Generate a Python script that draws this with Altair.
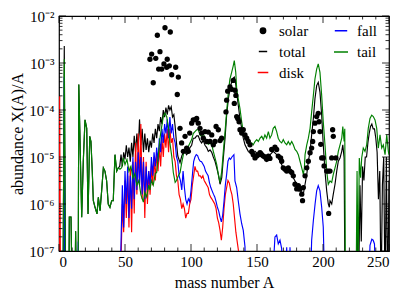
import altair as alt
import pandas as pd

# ---------------- data (log10 of abundance; -8 means below the plot) -------------
solar_A = [68.9, 70.2, 71.4, 73.3, 74.5, 75.5, 76.5, 77.8, 79.5, 80.3, 81.6, 82.0, 83.6, 84.3, 85.4, 88.4, 89.6, 90.4,
           91.7, 92.9, 94.2, 95.5, 96.7, 98, 99, 100.5, 101.7, 103, 104.3, 105.5, 106.8, 108.1, 109.3, 110.6, 111.9,
           113.1, 114.4, 115.7, 116.9, 118.2, 119, 120.7, 122, 123.2,
           126.5, 127, 127.8, 129.5, 130.8, 132, 132.8, 133.3, 134, 134.6, 135.4, 136.4, 137.1, 138.4, 139.6, 140.9,
           142.2, 143.4, 144.7, 146, 147.2, 148.5, 149.8, 151, 152.3, 153.6, 154.8,
           156, 157.3, 158.6, 159.8, 161.1, 163.6, 164.9, 166.1, 167.9, 168.7, 169.9, 171.2, 172.5, 173.7, 175, 176.3,
           177.5, 178.8, 180.1, 181.3, 182.6, 183.9, 184.5, 185.1, 186.4, 187.7, 188.9, 190.2, 191.4, 192.2, 192.7,
           193.9, 195.2, 196.4, 197, 197.7, 198.3, 199, 200.2, 200.8, 202.8, 204, 204.3, 205.3, 206.6, 207.3, 207.8,
           209.8]
solar_log = [-2.92, -2.81, -3.42, -2.90, -2.41, -3.13, -2.76, -3.13, -3.02, -2.25, -3.09, -2.92, -3.06, -2.34, -3.25,
             -3.09, -3.67, -3.30,
             -4.39, -4.70, -4.88, -4.56, -4.81, -4.88, -4.49, -4.28, -4.21, -4.21, -4.18, -4.28, -4.39, -4.49, -4.60,
             -4.46, -4.67, -4.47, -4.67, -4.53, -4.74, -4.67, -4.35, -4.42, -4.65, -4.60,
             -4.04, -3.79, -3.60, -3.51, -3.56, -3.37, -3.86, -3.58, -3.69, -4.14, -4.18, -4.25, -4.42, -4.49, -4.42,
             -4.53, -4.60, -4.67, -4.74, -4.88, -4.95, -5.02, -4.98, -4.95, -4.91, -4.95, -4.98,
             -5.00, -5.05, -4.98, -5.03, -4.84, -4.79, -4.84, -4.98, -5.02, -5.09, -5.23, -5.26, -5.30, -5.23, -5.30,
             -5.33, -5.40, -5.58, -5.68, -5.61, -5.68, -5.79, -5.93, -5.65, -5.40, -5.23, -5.09, -4.91, -4.81, -4.67,
             -4.46, -4.28, -4.14, -4.07, -4.25, -4.46, -4.73, -5.02, -5.02, -5.19, -5.30, -5.30, -6.20, -5.30, -5.02,
             -4.42, -4.56, -5.02]

tail_A = [0, 3, 4, 5, 7.5, 7.8, 9.1, 10, 12, 12.6, 13.3, 14.5, 15, 17.2, 18.4, 19.7, 21, 22, 23.3, 24.2, 25.2, 26,
          27.3, 28.8, 29.8, 31.1, 32.3, 33.6, 34.8, 36.1, 37.3, 38.6, 39.9, 41.1, 42.4, 43.7, 44.9, 46.2, 47.5, 48.7,
          50, 51.5, 53, 54.5, 56, 57.5, 59, 60.5, 62, 63.9, 65, 66.4, 68, 68.9, 70, 71.4, 73, 74, 75.2, 76.5, 77.8,
          79, 80.3, 81.6, 82.8, 84, 85.4, 86.6, 88, 89, 90.4, 91.7, 93, 94.2, 95.5, 96.7, 98, 99.2, 100.5, 101.7,
          103, 104.3, 105.5, 106.8, 108, 109.3, 110.6, 111.9, 113.1, 114.4, 115.7, 116.9, 118.2, 119.5, 120.7, 122,
          123.3, 124.5, 125.8, 127, 128.3, 129.5, 130.8, 132, 132.8, 133.9, 134.6, 135.8, 137.1, 138.4, 139.6,
          140.9, 142.2, 143.4, 144.7, 146, 147.2, 148.5, 149.8, 151, 152.3, 153.6, 154.8, 156, 157.3, 158.6, 159.8,
          161.1, 162.3, 163.6, 164.9, 166.1, 167.4, 168.7, 169.9, 171.2, 172.5, 173.7, 175, 176.3, 177.5, 178.8,
          180.1, 181.3, 182.6, 183.9, 185.1, 185.9, 186.4, 187.7, 188.9, 190.2, 191.4, 192.7, 193.9, 195.2, 196.4,
          197.7, 199, 200.2, 201.5, 202.8, 204, 205.3, 206.6, 207.8, 209.1, 210.4, 211.6, 212.9, 214.2, 215, 216,
          216.5, 217, 225, 225.8, 226.6, 227.5, 228.5, 229.3, 230.5, 231.8, 233.1, 234.3, 235.6, 236.9, 238.1,
          239.4, 240.7, 241.9, 243.2, 244.5, 245.7, 247, 248.3, 249.5, 250]
tail_log = [-8, -8, -2.92, -8, -8, -6.28, -6.28, -8, -8, -6.58, -8, -8, -3.46, -6.28, -5.09, -4.21, -4.39, -6.21,
            -4.56, -4.67, -5.30, -5.93, -6.07, -6.21, -5.86, -6.14, -5.72, -5.23, -5.30, -5.51, -6.00, -6.07, -5.93,
            -5.93, -4.95, -5.30, -5.23, -5.26, -5.23, -5.02,
            -5.16, -5.05, -5.30, -5.20, -5.45, -5.35, -5.60, -5.50, -5.80, -5.96, -5.75, -5.85, -5.60, -5.70, -5.50,
            -5.60, -5.35, -5.33, -4.98, -4.60, -4.35, -4.14, -4.07, -4.14, -4.35, -4.70, -4.98, -5.33, -5.54, -5.50,
            -5.40, -5.33, -5.12, -4.95, -4.84, -4.85, -4.77, -4.70, -4.63, -4.50,
            -4.46, -4.42, -4.42, -4.53, -4.56, -4.50, -4.60, -4.65, -4.73, -4.70, -4.74, -4.88, -5.02, -5.16, -5.37,
            -5.54, -5.30, -4.88, -4.46, -4.04, -3.62, -3.34, -3.20, -3.06, -2.95, -3.20, -3.55, -3.76, -3.97, -4.25,
            -4.46, -4.60, -4.62, -4.67, -4.74, -4.70, -4.74, -4.67, -4.63, -4.67, -4.60, -4.56, -4.63, -4.53, -4.60,
            -4.46, -4.60, -4.53, -4.39, -4.35, -4.46, -4.60, -4.67, -4.70, -4.63, -4.70, -4.74, -4.67, -4.74, -4.67,
            -4.74, -4.84, -4.88, -4.95, -5.09, -5.23, -5.37, -5.23, -4.95, -4.74, -4.60, -4.39, -4.04, -3.69, -3.34,
            -3.13, -3.02, -3.20, -3.69, -4.25, -4.74, -5.30, -5.58, -5.51, -5.54, -5.37, -5.23, -5.09, -4.88, -4.74,
            -4.60, -4.35, -4.67, -4.40, -8, -8, -5.30, -7.50, -5.02, -5.44, -5.02, -4.81, -4.88, -4.74, -4.39, -4.18,
            -4.11, -4.14, -4.21, -4.39, -4.81, -4.53, -4.81, -4.74, -4.95, -4.53, -4.88, -4.95]

total_A = [0, 3, 4, 5, 7.5, 7.8, 9.1, 10, 12, 12.6, 13.3, 14.5, 15, 17.2, 18.4, 19.7, 21, 22, 23.3, 24.2, 25.2, 26,
           27.3, 28.8, 29.8, 31.1, 32.3, 33.6, 34.8, 36.1, 37.3, 38.6, 39.9, 41.1, 42.4, 43.7, 44.9,
           46, 47, 48, 49, 50, 51, 52, 53, 54, 55, 56, 57, 58, 59, 60, 61, 62, 63, 64, 65, 66, 67, 68, 69, 70, 71,
           72, 73, 74, 75, 76, 77, 78, 79, 80, 81, 82, 83, 84, 85, 86, 87, 88, 89, 90, 91.7, 93, 94.2,
           95.5, 96.7, 98, 99.2, 100.5, 101.7, 103, 104.3, 105.5, 106.8, 108, 109.3, 110.6, 111.9, 113.1, 114.4,
           115.7, 116.9, 118.2, 119.5, 120.7, 122, 123.3, 124.5, 125.8, 127, 128.3, 129.5, 130.8, 132, 132.8, 133.9,
           134.6, 135.8, 137.1, 138.4, 139.6, 140.9, 143.4, 146, 148.5, 151, 153.6, 156, 157.3, 160, 162.3, 164.9,
           167.4, 169.9, 172.5, 175, 177.5, 180.1, 181.3, 182.6, 184, 185.1, 186.4, 187.7, 188.9, 190.2, 191.4,
           192.7, 193.9, 195.2, 196.4, 197.7, 199, 200.2, 201.5, 202.8, 204, 204.8, 205.3, 206.6, 207.8, 209.1,
           210.4, 211.6, 212.9, 214.2, 215, 216, 216.7, 225, 226, 227, 228, 229, 230, 231, 232, 233, 234, 235, 236,
           237, 238, 239, 240, 241, 242, 243, 244, 245, 246, 247, 248, 249, 250]
total_log = [-8, -8, -2.64, -8, -8, -6.28, -6.28, -8, -8, -6.58, -8, -8, -3.46, -6.28, -5.09, -4.21, -4.39, -6.21,
             -4.56, -4.67, -5.30, -5.93, -6.07, -6.21, -5.86, -6.14, -5.72, -5.23, -5.30, -5.51, -6.00, -6.07, -5.93,
             -5.93, -4.95, -5.30, -5.23,
             -5.20, -4.95, -5.20, -4.90, -5.05, -4.75, -5.00, -4.80, -5.10, -4.70, -5.00, -4.55, -4.90, -4.50, -4.85,
             -4.20, -4.75, -4.40, -4.90, -4.50, -4.85, -4.60, -4.90, -4.65, -4.80, -4.50, -4.70, -4.40, -4.60, -4.30,
             -4.45, -4.15, -4.30, -4.00, -4.15, -3.95, -4.10, -3.90, -4.00, -3.93, -4.15, -4.10, -4.35, -4.70, -4.98,
             -5.12, -4.98, -4.90,
             -4.90, -4.95, -4.90, -4.80, -4.75, -4.60, -4.60, -4.55, -4.55, -4.65, -4.70, -4.65, -4.75, -4.80, -4.88,
             -4.85, -4.90, -5.00, -5.09, -5.23, -5.37, -5.58, -5.44, -5.02, -4.60, -4.11, -3.76, -3.55, -3.40, -3.32,
             -3.30, -3.45, -3.62, -3.90, -4.18, -4.39, -4.60, -4.74, -4.88, -4.95, -4.88, -4.95, -4.88, -5.00, -5.09,
             -4.95, -4.88, -4.95, -5.09, -5.23, -5.30, -5.30, -5.44, -5.58, -5.72, -5.72, -5.75, -5.79, -5.58, -5.37,
             -5.09, -4.88, -4.53, -4.18, -3.76, -3.48, -3.41, -3.62, -4.11, -4.74, -5.30, -5.72, -6.00, -6.07, -5.93,
             -6.00, -5.79, -5.58, -5.30, -5.09, -5.02, -4.88, -4.74, -5.02, -8, -8, -6.50, -7.80, -5.60, -6.80,
             -5.20, -5.50, -5.00, -5.00, -4.70, -4.50, -4.35, -4.30, -4.40, -4.40, -4.60, -4.90, -5.90, -5.30, -8,
             -5.60, -5.00, -8, -5.00, -8, -5.50]

disk_A = [0, 0.5, 1.2, 46, 47, 48, 49, 50, 51, 52, 53, 54, 55, 56, 57, 58, 59, 60, 61, 62, 63, 64, 65, 66, 67, 68, 69,
          70, 71, 72, 73, 74, 75, 76, 77, 78, 79, 80, 81, 82, 83, 84, 85, 86, 87, 88, 89, 90, 91, 92, 93, 94, 95, 96,
          97, 98, 99, 100, 101, 102, 103, 104, 105, 106, 107, 108, 109, 110, 111, 112, 113, 114, 115, 116, 117, 118,
          119, 120, 121, 122, 123, 124, 125, 126, 127, 128, 129, 130, 131, 132, 133, 134, 135, 136, 137, 250]
disk_log = [-8, -3.70, -8, -8, -7.20, -6.00, -6.60, -5.50, -6.30, -5.40, -6.50, -5.20, -6.60, -5.10, -6.20, -4.70,
            -5.80, -4.50, -5.60, -4.30, -5.90, -5.00, -6.30, -5.10, -6.00, -5.30, -5.80, -5.20, -5.60, -5.00, -5.50,
            -4.90, -5.30, -4.80, -5.20, -4.60, -5.00, -4.50, -4.80, -4.40, -4.90, -4.40, -4.70, -4.60, -5.00, -5.10,
            -5.40, -5.50, -5.80, -5.90, -6.10, -6.00, -6.10, -6.30, -6.20, -6.20, -6.00, -5.90, -5.60, -5.40, -5.20,
            -5.30, -5.30, -5.40, -5.40, -5.45, -5.40, -5.50, -5.55, -5.60, -5.65, -5.80, -5.86, -5.90, -5.95, -6.00,
            -6.10, -6.30, -6.40, -6.56, -6.77, -6.50, -6.10, -5.80, -5.65, -5.50, -5.55, -5.70, -5.80, -6.00, -6.30,
            -6.60, -6.80, -7.00, -8, -8]

fall_A = [0, 3.5, 4, 4.5, 14, 14.6, 15.2, 46, 47, 48, 49, 50, 51, 52, 53, 54, 55, 56, 57, 58, 59, 60, 61, 62, 63, 64,
          65, 66, 67, 68, 69, 70, 71, 72, 73, 74, 75, 76, 77, 78, 79, 80, 81, 82, 83, 84, 85, 86, 87, 88, 89, 90,
          91, 92, 93, 94, 95, 96, 97, 98, 99, 100, 101, 102, 103, 104, 105, 106, 107, 108, 109, 110, 111, 112, 113,
          114, 115, 116, 117, 118, 119, 120, 121, 122, 123, 124, 125, 126, 127, 128, 129, 130, 131, 132.5, 133.3,
          134.6, 135.8, 137.1, 138.4, 139.6, 140.9, 141.5, 161, 163.6, 164.9, 166.1, 167.4, 168.7, 169.5, 171.5,
          172.5, 173.5, 174.5, 175, 176, 190.2, 191.4, 192.7, 194, 195.2, 196.4, 197.7, 199, 200.2, 201.5, 234.5,
          235.6, 237, 238, 239, 240.2, 250]
fall_log = [-8, -8, -3.30, -8, -8, -6.80, -8, -8, -6.80, -5.60, -6.50, -5.30, -6.00, -5.20, -6.30, -5.40, -6.10,
            -5.00, -5.90, -5.10, -5.70, -4.90, -5.60, -5.00, -5.80, -5.10, -5.90, -5.20, -5.70, -5.30, -5.60, -5.00,
            -5.40, -4.90, -5.20, -4.80, -5.10, -4.60, -4.90, -4.40, -4.70, -4.30, -4.50, -4.20, -4.60, -4.15, -4.50,
            -4.30, -4.60, -4.70, -5.00, -5.10, -5.40, -5.50, -5.70, -5.30, -5.65, -5.90, -6.00, -5.89, -5.95, -5.72,
            -5.40, -5.10, -5.00, -4.95, -4.97, -5.05, -5.09, -5.10, -5.15, -5.20, -5.30, -5.35, -5.40, -5.55, -5.65,
            -5.72, -5.79, -5.85, -5.95, -6.07, -6.15, -6.28, -6.38, -6.24, -5.95, -5.60, -5.37, -5.09, -5.02, -5.05,
            -5.00, -4.95, -5.51, -5.65, -5.93, -6.21, -6.42, -6.56, -6.91, -8, -8, -6.70, -6.66, -6.85, -6.77, -6.95,
            -8, -8, -6.92, -8, -8, -6.92, -8, -8, -6.77, -6.35, -6.00, -5.72, -5.61, -5.72, -6.07, -6.49, -8, -8,
            -6.88, -6.75, -6.77, -6.85, -8, -8]

series_order = ["solar", "total", "disk", "fall", "tail"]
series_colors = ["#000000", "#000000", "#ff0000", "#0000ff", "#008000"]
x_ticks_major = [0, 50, 100, 150, 200, 250]
x_ticks_minor = [10, 20, 30, 40, 60, 70, 80, 90, 110, 120, 130, 140, 160, 170, 180, 190, 210, 220, 230, 240]
y_ticks_major = [1e-7, 1e-6, 1e-5, 1e-4, 1e-3, 1e-2]
y_ticks_minor = [k * 10.0 ** e for e in range(-7, -2) for k in range(2, 10)]


def frame(name, a, lg):
    return pd.DataFrame({"A": a, "abund": [10.0 ** v for v in lg], "series": name})


FONT = "Liberation Serif"
W, H = 330, 235

xscale = alt.Scale(domain=[0, 250], nice=False, zero=False)
yscale = alt.Scale(type="log", domain=[1e-7, 1e-2], nice=False)
cscale = alt.Scale(domain=series_order, range=series_colors)

xaxis = alt.Axis(values=x_ticks_major, ticks=False, domain=False, grid=False, labelFont=FONT,
                 labelFontSize=15, labelPadding=3, labelColor="black", title="mass number A",
                 titleFont=FONT, titleFontSize=16, titleFontWeight="normal", titleColor="black",
                 titlePadding=5)
yaxis = alt.Axis(values=y_ticks_major, ticks=False, domain=False, grid=False, labelFont=FONT,
                 labelFontSize=15, labelPadding=5, labelColor="black",
                 labelExpr="'10' + ['⁻²','⁻³','⁻⁴','⁻⁵','⁻⁶','⁻⁷'][round(-log(datum.value)/LN10) - 2]",
                 title="abundance X(A)/A", titleFont=FONT, titleFontSize=16, titleFontWeight="normal",
                 titleColor="black", titlePadding=3)

legend = alt.Legend(title=None, orient="none", legendX=196, legendY=7, columns=2, columnPadding=22,
                    rowPadding=5, labelFont=FONT, labelFontSize=15, labelColor="black", labelOffset=8,
                    symbolStrokeWidth=1.5, symbolType="stroke")

color_enc = alt.Color("series:N", scale=cscale, legend=legend)
X_ENC = alt.X("A:Q", scale=xscale, axis=xaxis)
Y_ENC = alt.Y("abund:Q", scale=yscale, axis=yaxis)


def line_layer(df):
    return alt.Chart(df).mark_line(clip=True, strokeWidth=1.15).encode(
        x=X_ENC, y=Y_ENC, color=color_enc,
    )


total_layer = line_layer(frame("total", total_A, total_log))
disk_layer = line_layer(frame("disk", disk_A, disk_log))
fall_layer = line_layer(frame("fall", fall_A, fall_log))
tail_layer = line_layer(frame("tail", tail_A, tail_log))

solar_layer = alt.Chart(frame("solar", solar_A, solar_log)).mark_point(
    filled=True, opacity=1, clip=True, strokeWidth=0).encode(
    x=X_ENC, y=Y_ENC,
    color=color_enc,
    shape=alt.Shape("series:N", scale=alt.Scale(domain=series_order,
                                                  range=["circle", "stroke", "stroke", "stroke", "stroke"]),
                    legend=legend),
    size=alt.Size("series:N", scale=alt.Scale(domain=series_order, range=[28, 196, 196, 196, 196]),
                  legend=legend),
)

# inward tick marks on all four sides
ymaj = pd.DataFrame({"abund": y_ticks_major})
ymin = pd.DataFrame({"abund": y_ticks_minor})
xmaj = pd.DataFrame({"A": x_ticks_major})
xmin = pd.DataFrame({"A": x_ticks_minor})


def yticks(df, length):
    left = alt.Chart(df).mark_rule(color="black", strokeWidth=0.8).encode(
        y=Y_ENC, x=alt.value(0), x2=alt.value(length))
    right = alt.Chart(df).mark_rule(color="black", strokeWidth=0.8).encode(
        y=Y_ENC, x=alt.value(W), x2=alt.value(W - length))
    return [left, right]


def xticks(df, length):
    bottom = alt.Chart(df).mark_rule(color="black", strokeWidth=0.8).encode(
        x=X_ENC, y=alt.value(H), y2=alt.value(H - length))
    top = alt.Chart(df).mark_rule(color="black", strokeWidth=0.8).encode(
        x=X_ENC, y=alt.value(0), y2=alt.value(length))
    return [bottom, top]


tick_layers = yticks(ymaj, 7) + yticks(ymin, 3.5) + xticks(xmaj, 7) + xticks(xmin, 3.5)

chart = alt.layer(
    total_layer, disk_layer, fall_layer, tail_layer, solar_layer, *tick_layers
).properties(
    width=W, height=H,
    background="white",
    autosize=alt.AutoSizeParams(type="none"),
    padding={"left": 51, "top": 8, "right": 8, "bottom": 42},
).configure_view(stroke="black", strokeWidth=1.2)

chart.save("out.html", embed_options={"renderer": "svg", "actions": False})
